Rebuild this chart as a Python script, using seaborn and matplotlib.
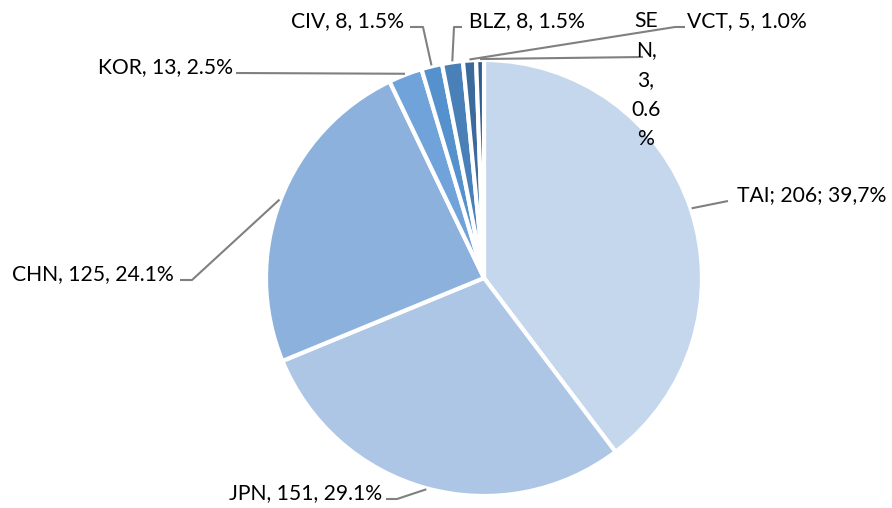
import numpy as np
import matplotlib
matplotlib.use("Agg")
import matplotlib.pyplot as plt
import seaborn as sns

# ---- data ----
countries = ["TAI", "JPN", "CHN", "KOR", "CIV", "BLZ", "VCT", "SEN"]
counts = [206, 151, 125, 13, 8, 8, 5, 3]
label_texts = ["TAI; 206; 39,7%", "JPN, 151, 29.1%", "CHN, 125, 24.1%",
               "KOR, 13, 2.5%", "CIV, 8, 1.5%", "BLZ, 8, 1.5%",
               "VCT, 5, 1.0%", "SE\nN,\n3,\n0.6\n%"]
colors = ["#c5d7ec", "#adc6e6", "#8db1dd", "#6fa3d9", "#5591cc",
          "#4a80b8", "#3c6a9c", "#2f5d8e"]

sns.set_theme(style="white")
plt.rcParams["font.family"] = ["Lato", "DejaVu Sans"]

W, H = 892, 508
fig = plt.figure(figsize=(W / 100, H / 100), dpi=100)
ax = fig.add_axes([0, 0, 1, 1])

def Y(py):
    return H - py

cx, cy, R = 484, Y(278), 218
wedges, _ = ax.pie(counts, colors=colors, startangle=90, counterclock=False,
                   center=(cx, cy), radius=R,
                   wedgeprops=dict(edgecolor="white", linewidth=3))
ax.set_xlim(0, W)
ax.set_ylim(0, H)
ax.set_aspect("equal")
ax.axis("off")

# layout of labels: (elbow points in pixels, text anchor, ha)
layout = {
    "TAI": dict(pts=[(728, 201)], text=(737, 201), ha="left"),
    "JPN": dict(pts=[(397, 499), (386, 499)], text=(382, 499), ha="right"),
    "CHN": dict(pts=[(192, 280), (180, 280)], text=(174, 280), ha="right"),
    "KOR": dict(pts=[(236, 73)], text=(233, 73), ha="right"),
    "CIV": dict(pts=[(423, 27), (410, 27)], text=(404, 27), ha="right"),
    "BLZ": dict(pts=[(454, 27), (462, 27)], text=(469, 27), ha="left"),
    "VCT": dict(pts=[(675, 27), (685, 27)], text=(687, 27), ha="left"),
    "SEN": dict(pts=[(643, 57)], text=(646, 27), ha="center"),
}

fs = 15.2
for w, name, lab in zip(wedges, countries, label_texts):
    mid = np.deg2rad((w.theta1 + w.theta2) / 2)
    ex, ey = cx + (R + 1) * np.cos(mid), cy + (R + 1) * np.sin(mid)
    L = layout[name]
    xs = [ex] + [p[0] for p in L["pts"]]
    ys = [ey] + [Y(p[1]) for p in L["pts"]]
    ax.plot(xs, ys, color="#808080", lw=1.5, solid_capstyle="butt", zorder=3)
    tx, ty = L["text"]
    for i, line in enumerate(lab.split("\n")):
        ax.text(tx, Y(ty + i * 29.5), line, ha=L["ha"], va="baseline",
                fontsize=fs, color="black")

fig.savefig("out.png", dpi=100)
